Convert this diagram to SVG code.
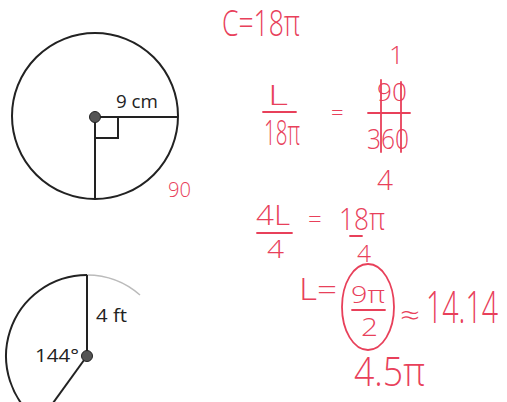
<svg xmlns="http://www.w3.org/2000/svg" width="507" height="402" viewBox="0 0 507 402">
<style>
.ink{fill:none;stroke:#222;stroke-width:2}
.lbl{font-family:"Open Sans","Liberation Sans",sans-serif;font-size:19px;fill:#222}
.hw{font-family:"Open Sans","Liberation Sans",sans-serif;font-weight:300;fill:#e8405a}
.hl{fill:none;stroke:#e8405a;stroke-width:1.8;stroke-linecap:round}
</style>
<rect width="507" height="402" fill="#fff"/>
<g id="circle1">
<circle cx="95" cy="116" r="83" class="ink"/>
<line x1="95" y1="117" x2="178" y2="117" class="ink"/>
<line x1="95" y1="117" x2="95" y2="199" class="ink"/>
<polyline points="95,138 118,138 118,117" class="ink"/>
<circle cx="95" cy="117" r="5.5" fill="#555" stroke="#222" stroke-width="1"/>
<text x="116" y="108" class="lbl" textLength="42" lengthAdjust="spacingAndGlyphs">9 cm</text>
</g>
<g id="circle2">
<path d="M87,275 A81,81 0 0 0 39.4,421.5" class="ink"/>
<path d="M87,275 A81,81 0 0 1 140,295" fill="none" stroke="#bbb" stroke-width="1.5"/>
<line x1="87" y1="275" x2="87" y2="356" class="ink"/>
<line x1="87" y1="356" x2="53" y2="403" class="ink"/>
<circle cx="87" cy="356" r="5.5" fill="#555" stroke="#222" stroke-width="1"/>
<text x="96" y="322" class="lbl" textLength="31" lengthAdjust="spacingAndGlyphs">4 ft</text>
<text x="35" y="362" class="lbl" textLength="44" lengthAdjust="spacingAndGlyphs">144°</text>
</g>
<g id="work">
<text x="168" y="197" class="hw" font-size="21" textLength="23" lengthAdjust="spacingAndGlyphs">90</text>
<text x="222" y="36" class="hw" font-size="36" textLength="78" lengthAdjust="spacingAndGlyphs">C=18π</text>
<text x="268" y="105" class="hw" font-size="28" textLength="20" lengthAdjust="spacingAndGlyphs">L</text>
<line x1="263" y1="112" x2="296" y2="112" class="hl"/>
<text x="264" y="145" class="hw" font-size="34" textLength="36" lengthAdjust="spacingAndGlyphs">18π</text>
<text x="331" y="120" class="hw" font-size="22">=</text>
<text x="389" y="64" class="hw" font-size="26">1</text>
<text x="377" y="101" class="hw" font-size="26" textLength="30" lengthAdjust="spacingAndGlyphs">90</text>
<line x1="368" y1="113" x2="410" y2="113" class="hl"/>
<text x="367" y="149" class="hw" font-size="28" textLength="42" lengthAdjust="spacingAndGlyphs">360</text>
<line x1="381" y1="80" x2="381" y2="152" class="hl"/>
<line x1="401" y1="82" x2="401" y2="152" class="hl"/>
<text x="377" y="190" class="hw" font-size="28" textLength="16" lengthAdjust="spacingAndGlyphs">4</text>
<text x="256" y="225" class="hw" font-size="27" textLength="34" lengthAdjust="spacingAndGlyphs">4L</text>
<line x1="257" y1="233" x2="292" y2="233" class="hl"/>
<text x="267" y="258" class="hw" font-size="26" textLength="17" lengthAdjust="spacingAndGlyphs">4</text>
<text x="308" y="228" class="hw" font-size="24">=</text>
<text x="339" y="230" class="hw" font-size="32" textLength="46" lengthAdjust="spacingAndGlyphs">18π</text>
<line x1="350" y1="236" x2="362" y2="236" class="hl"/>
<text x="357" y="262" class="hw" font-size="24" textLength="14" lengthAdjust="spacingAndGlyphs">4</text>
<text x="299" y="300" class="hw" font-size="32" textLength="38" lengthAdjust="spacingAndGlyphs">L=</text>
<ellipse cx="368" cy="307" rx="26" ry="43" class="hl"/>
<text x="351" y="303" class="hw" font-size="24" textLength="34" lengthAdjust="spacingAndGlyphs">9π</text>
<line x1="352" y1="310" x2="385" y2="310" class="hl"/>
<text x="361" y="336" class="hw" font-size="26" textLength="17" lengthAdjust="spacingAndGlyphs">2</text>
<text x="400" y="326" class="hw" font-size="30" textLength="20" lengthAdjust="spacingAndGlyphs">≈</text>
<text x="426" y="323" class="hw" font-size="44" textLength="72" lengthAdjust="spacingAndGlyphs">14.14</text>
<text x="354" y="386" class="hw" font-size="40" textLength="71" lengthAdjust="spacingAndGlyphs">4.5π</text>
</g>
</svg>
